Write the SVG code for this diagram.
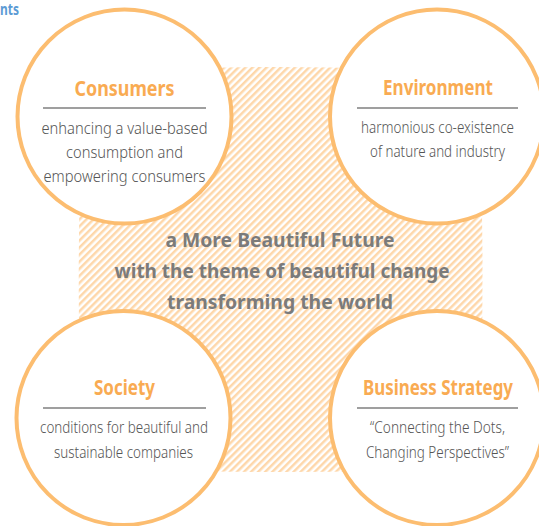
<svg xmlns="http://www.w3.org/2000/svg" width="539" height="526" viewBox="0 0 539 526">
<defs>
<pattern id="hatch" patternUnits="userSpaceOnUse" width="5" height="5" patternTransform="rotate(45)">
<rect x="0" y="0" width="5" height="5" fill="#ffffff"/>
<rect x="0" y="0" width="2.5" height="5" fill="#fed7aa"/>
</pattern>
<style>
.ring{fill:#ffffff;stroke:#fcbd70;stroke-width:4}
.title{font-family:"Noto Sans","DejaVu Sans",sans-serif;font-weight:bold;font-size:21px;fill:#f9ab52;text-anchor:middle}
.body{font-family:"Noto Sans","DejaVu Sans",sans-serif;font-weight:300;font-size:16px;fill:#555555;text-anchor:middle}
.rule{stroke:#7f7f7f;stroke-width:1.6}
.center{font-family:"Noto Sans","DejaVu Sans",sans-serif;font-weight:bold;font-size:20px;fill:#7b7b7b;text-anchor:middle}
.head{font-family:"Noto Sans","DejaVu Sans",sans-serif;font-weight:bold;font-size:16px;fill:#5b9bd5}
</style>
</defs>
<rect width="539" height="526" fill="#ffffff"/>
<text class="head" x="0" y="15" textLength="19" lengthAdjust="spacingAndGlyphs">nts</text>
<g id="core">
<path d="M 82,74 Q 280,60 479,74 Q 486,270 479,468 Q 280,476 81,468 Q 76,270 82,74 Z" fill="url(#hatch)"/>
<text class="center" x="280" y="247" textLength="229" lengthAdjust="spacingAndGlyphs">a More Beautiful Future</text>
<text class="center" x="282" y="278" textLength="335" lengthAdjust="spacingAndGlyphs">with the theme of beautiful change</text>
<text class="center" x="280" y="309" textLength="226" lengthAdjust="spacingAndGlyphs">transforming the world</text>
</g>
<g id="consumers">
<circle class="ring" cx="124.5" cy="116.5" r="107"/>
<text class="title" x="124.5" y="96" textLength="100" lengthAdjust="spacingAndGlyphs">Consumers</text>
<line class="rule" x1="43" y1="108" x2="206" y2="108"/>
<text class="body" x="124.5" y="134" textLength="166" lengthAdjust="spacingAndGlyphs">enhancing a value-based</text>
<text class="body" x="124.5" y="158" textLength="117" lengthAdjust="spacingAndGlyphs">consumption and</text>
<text class="body" x="124.5" y="182" textLength="162" lengthAdjust="spacingAndGlyphs">empowering consumers</text>
</g>
<g id="environment">
<circle class="ring" cx="437" cy="116.5" r="107"/>
<text class="title" x="438" y="95" textLength="110" lengthAdjust="spacingAndGlyphs">Environment</text>
<line class="rule" x1="357" y1="108" x2="518" y2="108"/>
<text class="body" x="437.5" y="133" textLength="153" lengthAdjust="spacingAndGlyphs">harmonious co-existence</text>
<text class="body" x="437.5" y="157" textLength="135" lengthAdjust="spacingAndGlyphs">of nature and industry</text>
</g>
<g id="society">
<circle class="ring" cx="123.5" cy="418" r="107"/>
<text class="title" x="124.5" y="395" textLength="61" lengthAdjust="spacingAndGlyphs">Society</text>
<line class="rule" x1="43" y1="408" x2="206" y2="408"/>
<text class="body" x="124" y="433" textLength="168" lengthAdjust="spacingAndGlyphs">conditions for beautiful and</text>
<text class="body" x="123.5" y="458" textLength="139" lengthAdjust="spacingAndGlyphs">sustainable companies</text>
</g>
<g id="business-strategy">
<circle class="ring" cx="437" cy="418" r="107"/>
<text class="title" x="438" y="395" textLength="150" lengthAdjust="spacingAndGlyphs">Business Strategy</text>
<line class="rule" x1="357" y1="408" x2="518" y2="408"/>
<text class="body" x="437.5" y="433" textLength="135" lengthAdjust="spacingAndGlyphs">“Connecting the Dots,</text>
<text class="body" x="437.5" y="458" textLength="143" lengthAdjust="spacingAndGlyphs">Changing Perspectives”</text>
</g>
<g id="connectors"/>
</svg>
